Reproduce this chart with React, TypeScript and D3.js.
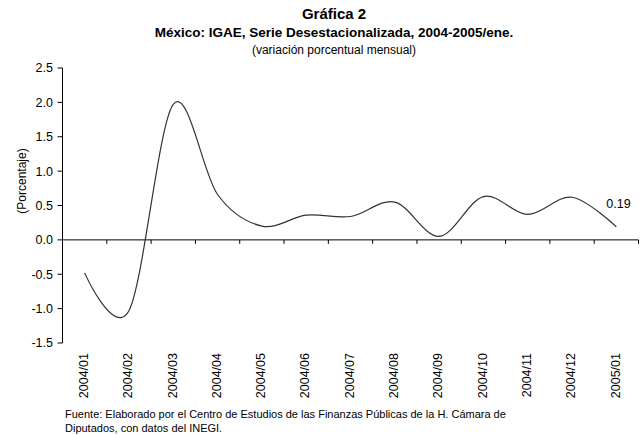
import React from 'react'
import * as d3 from 'd3'

const categories = [
  '2004/01', '2004/02', '2004/03', '2004/04', '2004/05', '2004/06', '2004/07',
  '2004/08', '2004/09', '2004/10', '2004/11', '2004/12', '2005/01',
]
const values = [-0.48, -1.03, 1.97, 0.66, 0.2, 0.36, 0.34, 0.55, 0.05, 0.63, 0.37, 0.62, 0.19]
const yTicks = [2.5, 2.0, 1.5, 1.0, 0.5, 0.0, -0.5, -1.0, -1.5]

const W = 643
const H = 435
const FONT = '"Liberation Sans", Arial, sans-serif'

export default function App() {
  const left = 62.5
  const right = 638.5
  const top = 68
  const bottom = 343

  const x = d3.scaleBand<string>().domain(categories).range([left, right]).padding(0)
  const y = d3.scaleLinear().domain([-1.5, 2.5]).range([bottom, top])
  const cx = (c: string) => (x(c) ?? 0) + x.bandwidth() / 2

  // excel-style smoothed line
  const line = d3.line<number>()
    .x((_, i) => cx(categories[i]))
    .y(d => y(d))
    .curve(d3.curveCardinal.tension(0))

  const y0 = y(0)
  const boundaries = categories.map(c => (x(c) ?? 0) + x.bandwidth())
  const last = categories.length - 1

  return (
    <svg width={W} height={H} style={{ position: 'absolute', left: 0, top: 0, background: '#fff' }} fontFamily={FONT}>
      <text x={334} y={19} textAnchor="middle" fontSize={15} fontWeight="bold">Gráfica 2</text>
      <text x={334} y={37} textAnchor="middle" fontSize={13.5} fontWeight="bold">México: IGAE, Serie Desestacionalizada, 2004-2005/ene.</text>
      <text x={334} y={54} textAnchor="middle" fontSize={12}>(variación porcentual mensual)</text>

      <line x1={left} x2={left} y1={top} y2={bottom} stroke="#000" />
      {yTicks.map(t => (
        <g key={t}>
          <line x1={left - 5} x2={left} y1={y(t)} y2={y(t)} stroke="#000" />
          <text x={53} y={y(t)} dy="0.35em" textAnchor="end" fontSize={12.5}>{t.toFixed(1)}</text>
        </g>
      ))}
      <text transform={`translate(26,181) rotate(-90)`} textAnchor="middle" fontSize={12}>(Porcentaje)</text>

      <line x1={left} x2={right} y1={y0} y2={y0} stroke="#000" />
      {boundaries.map((b, i) => (
        <line key={i} x1={b} x2={b} y1={y0} y2={y0 + 4} stroke="#000" />
      ))}
      {categories.map(c => (
        <text key={c} transform={`translate(${cx(c)},353) rotate(-90)`} textAnchor="end" dominantBaseline="middle" fontSize={12.5}>{c}</text>
      ))}

      <path d={line(values) ?? ''} fill="none" stroke="#333" strokeWidth={1.2} />
      <text x={cx(categories[last]) - 10} y={y(values[last]) - 19} fontSize={12.5}>{values[last].toFixed(2)}</text>

      <text x={65} y={418} fontSize={11}>Fuente: Elaborado por el Centro de Estudios de las Finanzas Públicas de la H. Cámara de</text>
      <text x={65} y={432} fontSize={11}>Diputados, con datos del INEGI.</text>
    </svg>
  )
}
